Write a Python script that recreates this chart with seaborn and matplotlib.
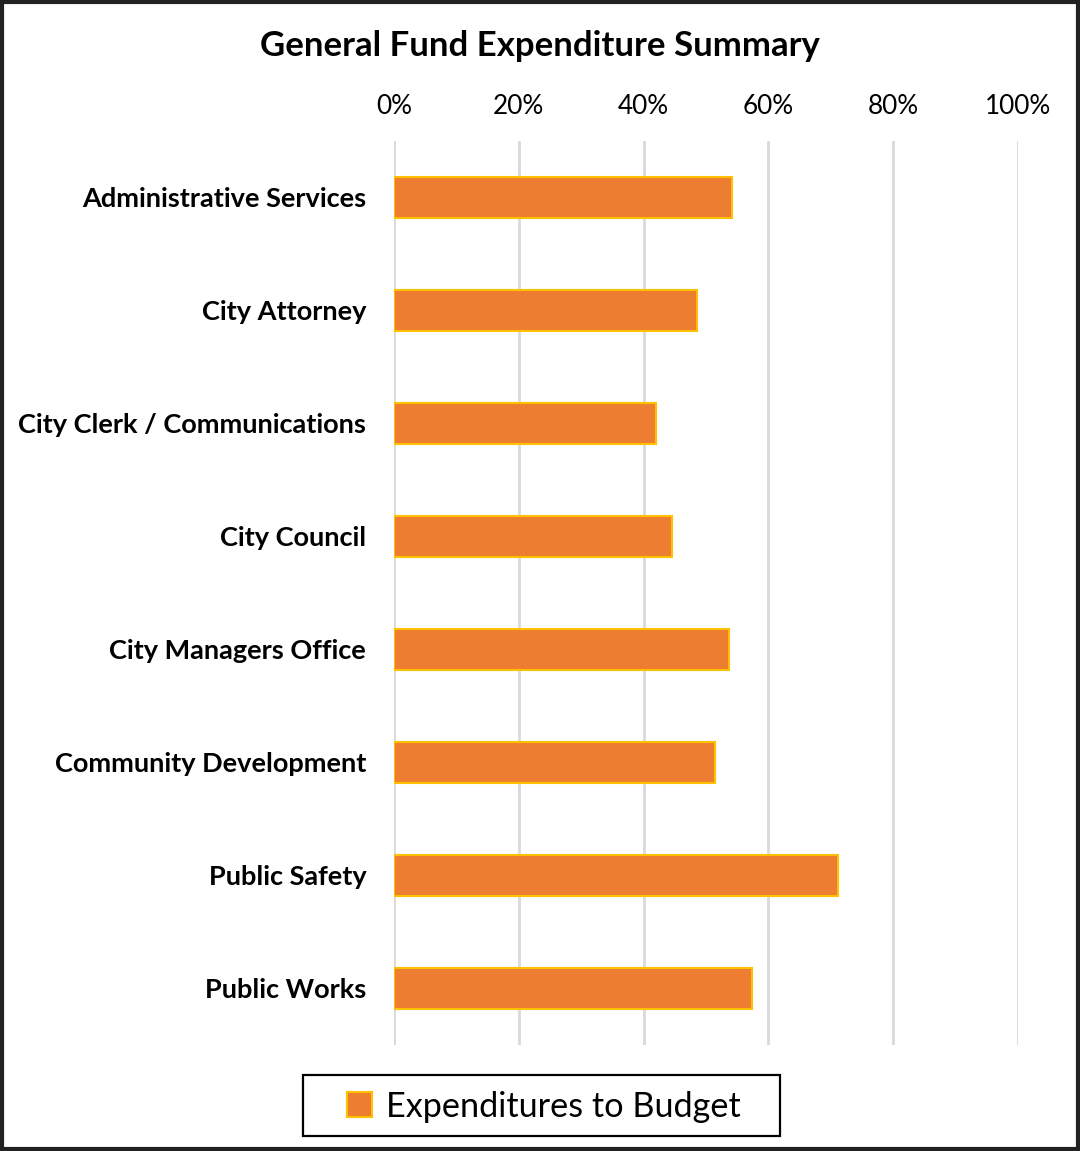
import matplotlib
matplotlib.use("Agg")
import matplotlib.pyplot as plt
from matplotlib.patches import Rectangle
from matplotlib.ticker import PercentFormatter
import seaborn as sns
import pandas as pd

departments = [
    "Administrative Services",
    "City Attorney",
    "City Clerk / Communications",
    "City Council",
    "City Managers Office",
    "Community Development",
    "Public Safety",
    "Public Works",
]
expenditure_pct = [0.542, 0.486, 0.420, 0.445, 0.537, 0.514, 0.711, 0.574]
series_name = "Expenditures to Budget"
x_ticks = [0, 0.2, 0.4, 0.6, 0.8, 1.0]

df = pd.DataFrame({"Department": departments, "Share": expenditure_pct,
                   "Series": series_name})

sns.set_theme(style="white")
plt.rcParams["font.family"] = ["Lato", "DejaVu Sans"]
plt.rcParams["text.color"] = "black"

fig = plt.figure(figsize=(10.8, 11.51), dpi=100)
ax = fig.add_axes([0.3648, 0.0921, 0.5778, 0.7854])

sns.barplot(data=df, y="Department", x="Share", hue="Series", orient="h",
            palette=["#ED7D31"], saturation=1, width=0.37,
            edgecolor="#FFC000", linewidth=1.5, ax=ax, legend=False,
            zorder=3)

ax.set_xlim(0, 1.0)
ax.set_ylim(7.5, -0.5)
ax.set_xticks(x_ticks)
ax.xaxis.set_major_formatter(PercentFormatter(1.0, decimals=0))
ax.xaxis.tick_top()
ax.tick_params(axis="x", length=0, pad=16, labelsize=18.8, colors="black")
ax.tick_params(axis="y", length=0, pad=20, labelsize=19.5, colors="black")
for lbl in ax.get_yticklabels():
    lbl.set_fontweight("bold")
ax.set_xlabel("")
ax.set_ylabel("")
ax.grid(axis="x", color="#d9d9d9", linewidth=2, zorder=0)
for s in ax.spines.values():
    s.set_visible(False)

fig.text(0.5, 0.960, "General Fund Expenditure Summary", ha="center",
         va="center", fontsize=25, fontweight="bold", color="black")

# legend entry plus its framed box
handle = Rectangle((0, 0), 1, 1, facecolor="#ED7D31", edgecolor="#FFC000",
                   linewidth=1.5)
leg = fig.legend([handle], [series_name], loc="center",
                 bbox_to_anchor=(0.5035, 0.0385), fontsize=24.7,
                 frameon=False, handlelength=0.75, handleheight=0.75,
                 handletextpad=0.4, borderpad=0.2, borderaxespad=0)
for t in leg.get_texts():
    t.set_color("black")
fig.patches.append(Rectangle((303 / 1080, 1 - 1136 / 1151), 477 / 1080,
                             61 / 1151, transform=fig.transFigure,
                             fill=False, edgecolor="black", linewidth=1.6))

# outer frame of the chart area
fig.patches.append(Rectangle((0.002, 0.002), 0.996, 0.996,
                             transform=fig.transFigure, fill=False,
                             edgecolor="#222222", linewidth=3))

fig.savefig("out.png", dpi=100)
